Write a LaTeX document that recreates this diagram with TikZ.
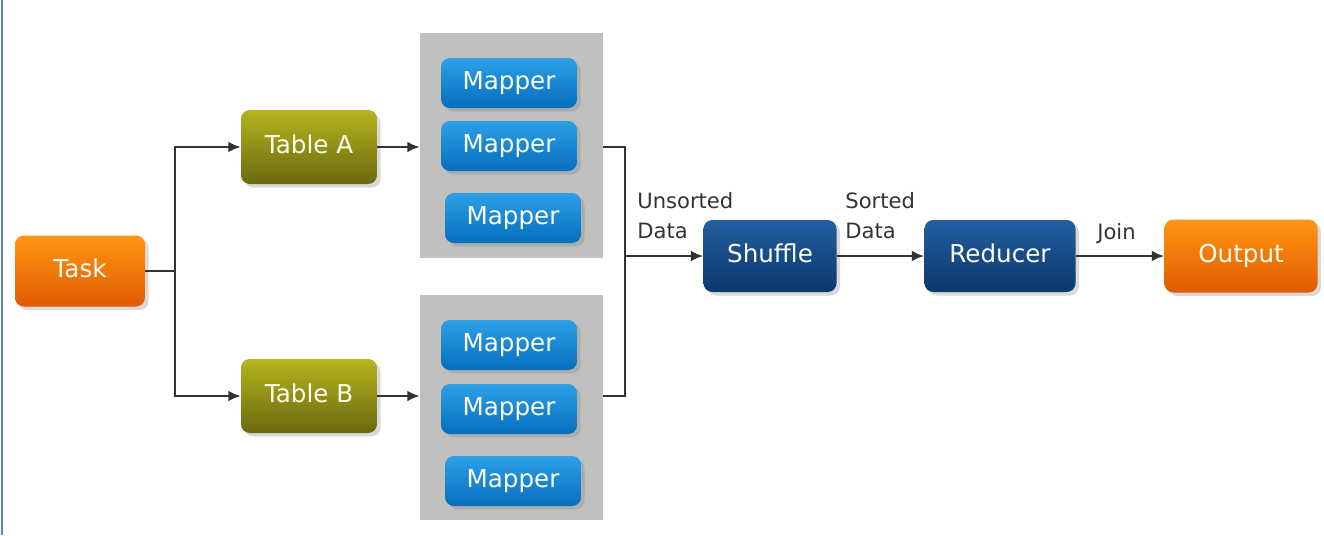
\documentclass[tikz,border=0pt]{standalone}
\usepackage{fontspec}
\setmainfont{DejaVu Sans}
\usepackage{xcolor}
\usepackage{tikz}
\usetikzlibrary{arrows, arrows.meta, positioning, shadows}
\definecolor{taskorange}{RGB}{255, 150, 20}
\definecolor{taskdark}{RGB}{225, 90, 0}
\definecolor{tableolive}{RGB}{182, 180, 30}
\definecolor{tabledark}{RGB}{105, 105, 15}
\definecolor{mapperblue}{RGB}{45, 160, 232}
\definecolor{mapperdark}{RGB}{5, 110, 190}
\definecolor{stagenavy}{RGB}{35, 95, 160}
\definecolor{stagedark}{RGB}{12, 55, 110}
\definecolor{groupgray}{RGB}{192, 192, 190}
\definecolor{linegray}{RGB}{50, 50, 50}
\definecolor{framesteel}{RGB}{95, 130, 180}

\begin{document}
\begin{tikzpicture}[
    x=0.02cm, y=-0.02cm,
    box/.style={rectangle, rounded corners=5pt, text=white!95!yellow,
                font=\fontsize{14}{16}\selectfont, text height=1.35ex, text depth=0pt,
                drop shadow={shadow xshift=2pt, shadow yshift=-2pt, opacity=0.3}},
    task/.style={box, top color=taskorange, bottom color=taskdark},
    tbl/.style={box, top color=tableolive, bottom color=tabledark,
                minimum width=2.72cm, minimum height=1.48cm},
    mapper/.style={box, top color=mapperblue, bottom color=mapperdark,
                   minimum width=2.72cm, minimum height=1cm},
    stage/.style={box, top color=stagenavy, bottom color=stagedark,
                  minimum height=1.44cm},
    group/.style={rectangle, fill=groupgray, minimum width=3.66cm, minimum height=4.5cm},
    lbl/.style={align=left, text=black!80, font=\fontsize{12}{17}\selectfont, inner sep=0pt},
    arr/.style={-{Latex[length=7pt, width=6pt]}, line width=1pt, color=linegray},
    lin/.style={line width=1pt, color=linegray}
]
\useasboundingbox (0,0) rectangle (1324,535);
\draw[framesteel, line width=1.5pt] (2,0) -- (2,535);

% inputs
\node[task, minimum width=2.6cm, minimum height=1.42cm] (task) at (80,271) {Task};
\node[tbl] (tabA) at (309,147) {Table A};
\node[tbl] (tabB) at (309,396) {Table B};

% mapper groups
\node[group] (grpA) at (511.5,145.5) {};
\node[group] (grpB) at (511.5,407.5) {};
\node[mapper] (mapA1) at (509,83)  {Mapper};
\node[mapper] (mapA2) at (509,146) {Mapper};
\node[mapper] (mapA3) at (513,218) {Mapper};
\node[mapper] (mapB1) at (509,345) {Mapper};
\node[mapper] (mapB2) at (509,409) {Mapper};
\node[mapper] (mapB3) at (513,481) {Mapper};

% shuffle, reduce, output
\node[stage, minimum width=2.66cm] (shuffle) at (770,256) {Shuffle};
\node[stage, minimum width=3.02cm] (reducer) at (1000,256) {Reducer};
\node[task, minimum width=3.06cm, minimum height=1.46cm] (output) at (1241,256) {Output};

\node[lbl, anchor=north west] (unsorted) at (637,192) {Unsorted\\Data};
\node[lbl, anchor=north west] (sorted)   at (845,192) {Sorted\\Data};
\node[lbl, anchor=north west] (join)     at (1097,223) {Join};

\coordinate (split) at (175,271);
\coordinate (merge) at (625,256);

\draw[lin] (task) -- (split);
\draw[arr] (split) |- (tabA);
\draw[arr] (split) |- (tabB);
\draw[arr] (tabA) -- (grpA.west |- tabA);
\draw[arr] (tabB) -- (grpB.west |- tabB);
\draw[lin] (grpA.east |- tabA) -| (merge);
\draw[lin] (grpB.east |- tabB) -| (merge);
\draw[arr] (merge) -- (shuffle);
\draw[arr] (shuffle) -- (reducer);
\draw[arr] (reducer) -- (output);

\end{tikzpicture}
\end{document}
